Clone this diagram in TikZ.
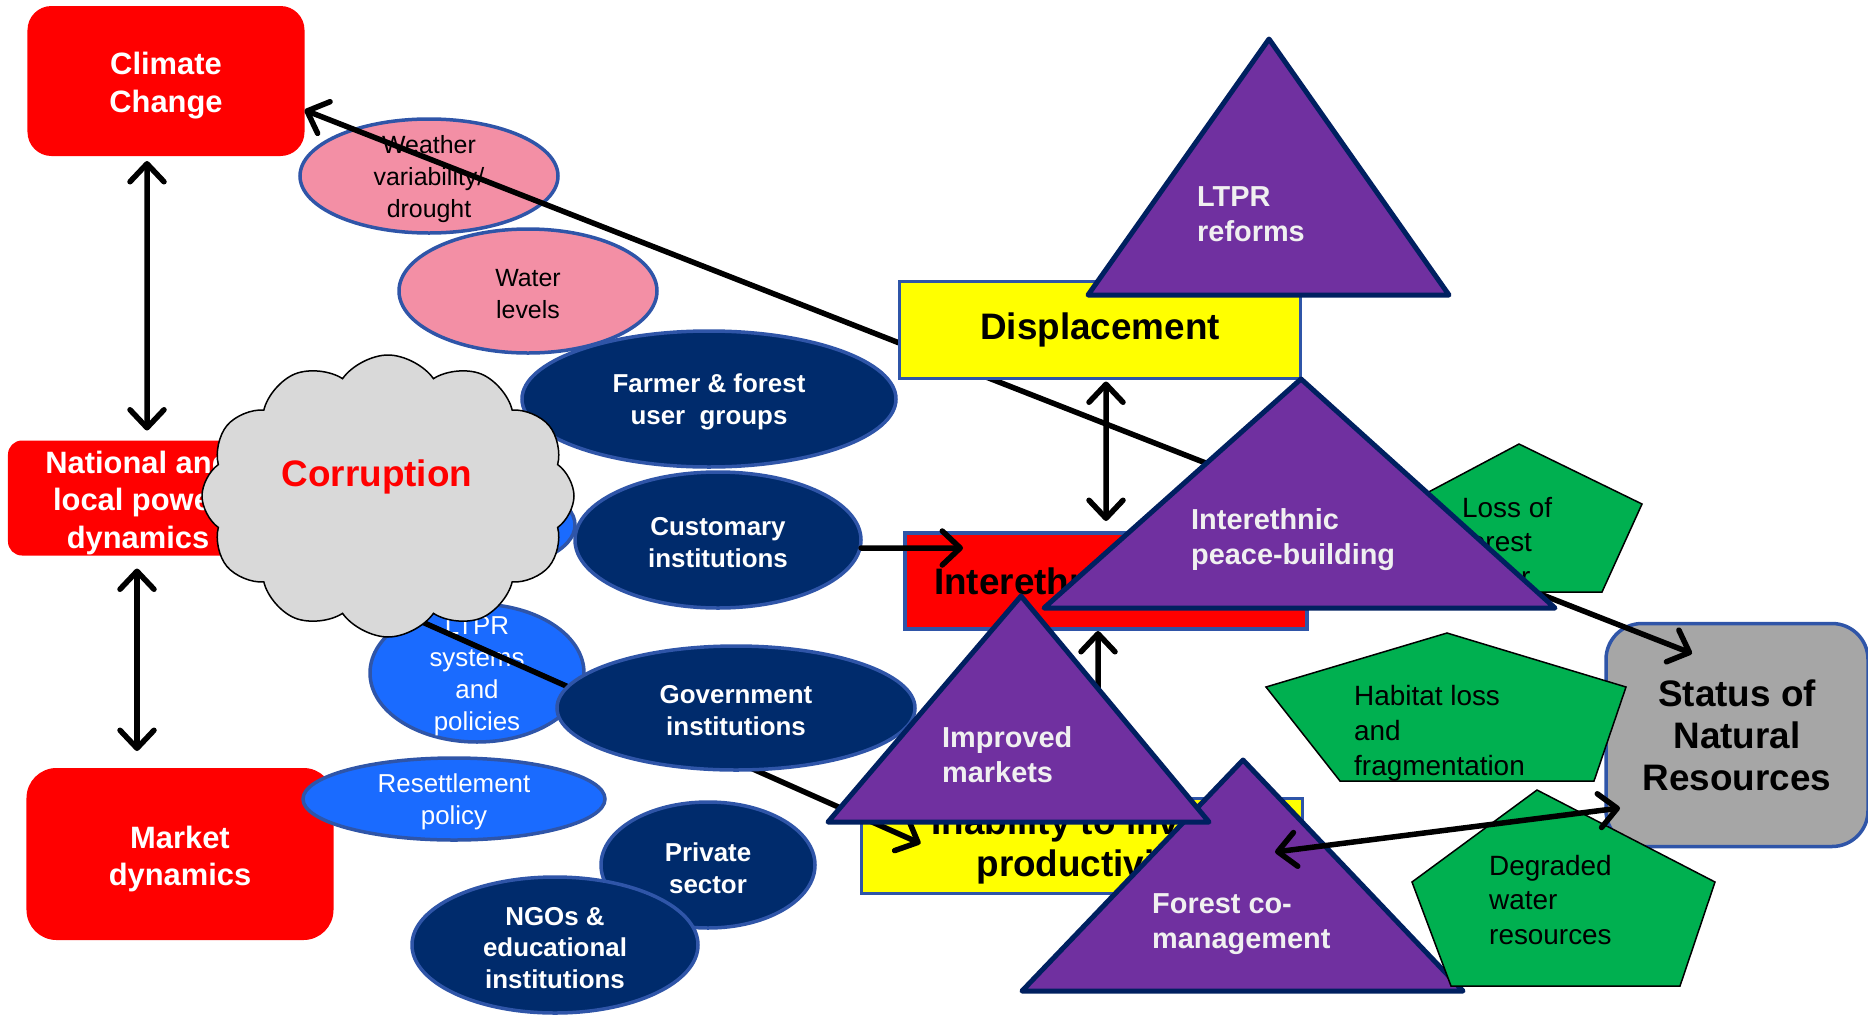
\documentclass[tikz,border=0pt]{standalone}
\usepackage{fontspec}
\setmainfont{Liberation Sans}
\usetikzlibrary{arrows.meta,positioning,shapes.geometric,shapes.symbols}
\definecolor{Box_Red}{HTML}{FF0000}
\definecolor{Rim_Blue}{HTML}{2F55A8}
\definecolor{Pink_Fill}{HTML}{F38FA5}
\definecolor{Navy_Fill}{HTML}{002B6C}
\definecolor{Sky_Fill}{HTML}{1A6BFF}
\definecolor{Tri_Purple}{HTML}{7030A0}
\definecolor{Tri_Navy}{HTML}{002060}
\definecolor{Tri_Text}{HTML}{F0F0F0}
\definecolor{Box_Yellow}{HTML}{FFFF00}
\definecolor{Penta_Green}{HTML}{00B050}
\definecolor{Status_Gray}{HTML}{A6A6A6}
\definecolor{Cloud_Gray}{HTML}{D9D9D9}

\tikzset{
    redbox/.style={rectangle, rounded corners=24bp, fill=Box_Red, inner sep=0, outer sep=0},
    redtext/.style={text=white, align=center, yshift=-5bp, font=\bfseries\fontsize{31}{38}\selectfont},
    plainbox/.style={rectangle, draw=Rim_Blue, line width=3.5bp, align=center,
        inner sep=0, outer sep=0, font=\bfseries\fontsize{37}{42}\selectfont},
    yelbox/.style={plainbox, fill=Box_Yellow},
    confbox/.style={plainbox, fill=Box_Red},
    statbox/.style={plainbox, fill=Status_Gray, rounded corners=36bp},
    ell/.style={ellipse, draw=Rim_Blue, line width=3.5bp, inner sep=0, outer sep=0},
    pinkell/.style={ell, fill=Pink_Fill},
    navyell/.style={ell, fill=Navy_Fill},
    skyell/.style={ell, fill=Sky_Fill},
    pinktext/.style={text=black, align=center, yshift=-3bp, font=\fontsize{25}{32}\selectfont},
    navytext/.style={text=white, align=center, yshift=-3bp, font=\bfseries\fontsize{26}{32}\selectfont},
    skytext/.style={text=white, align=center, yshift=-3bp, font=\fontsize{26}{32}\selectfont},
    puff/.style={cloud, cloud puffs=12, cloud puff arc=110, fill=Cloud_Gray, draw=black,
        line width=1.5bp, inner sep=0},
    tri/.style={fill=Tri_Purple, draw=Tri_Navy, line width=5bp, line join=round},
    tritext/.style={text=Tri_Text, align=left, anchor=west, inner sep=0,
        font=\bfseries\fontsize{29}{35}\selectfont},
    penta/.style={fill=Penta_Green, draw=black, line width=1.5bp},
    pentext/.style={text=black, align=left, anchor=west, inner sep=0,
        font=\fontsize{28}{35}\selectfont},
    arrline/.style={line width=5.5bp, line cap=round}
}

\begin{document}
\begin{tikzpicture}[x=1bp, y=-1bp,
    >={Straight Barb[length=18bp,width=34bp,line cap=round,line join=round]}]
    \useasboundingbox (0,0) rectangle (1868,1015);

    % Drivers on the left
    \node[redbox, minimum width=277bp, minimum height=150bp,
        label={[redtext]center:{Climate\\Change}}] (clim) at (166,81) {};
    \node[redbox, minimum width=260bp, minimum height=115bp, rounded corners=14bp,
        label={[redtext]center:{National and\\local power\\dynamics}}] (nat) at (138,498) {};
    \node[redbox, minimum width=307bp, minimum height=172bp, rounded corners=30bp,
        label={[redtext]center:{Market\\dynamics}}] (mkt) at (180,854) {};

    % Status box and outcome boxes
    \node[statbox, minimum width=262bp, minimum height=223bp] (stat) at (1737,735) {Status of\\Natural\\Resources};
    \node[yelbox, minimum width=441bp, minimum height=95bp] (inab) at (1082,846) {Inability to invest\\productivity};
    \node[confbox, minimum width=402bp, minimum height=96bp] (conf) at (1106,581) {\hspace*{-14bp}Interethnic conflict};

    % Links between drivers
    \draw[<->, arrline, shorten <=5bp, shorten >=10bp] ([xshift=-19bp]clim.south) -- ([xshift=9bp]nat.north);
    \draw[<->, arrline, shorten <=13bp, shorten >=17bp] ([xshift=-1bp]nat.south) -- ([xshift=-1bp]nat.south |- mkt.north);

    % Climate factors
    \node[pinkell, minimum width=258bp, minimum height=114bp,
        label={[pinktext]center:{Weather\\variability/\\drought}}] (weath) at (429,176) {};
    \node[pinkell, minimum width=258bp, minimum height=124bp,
        label={[pinktext]center:{Water\\levels}}] (water) at (528,291) {};

    % Long link climate - resources
    \draw[<->, arrline] ([yshift=-29bp]clim.east) -- ([xshift=86bp,yshift=-30bp]stat.north west);

    \node[yelbox, minimum width=401bp, minimum height=97bp] (disp) at (1100,330) {\raisebox{-4bp}{Displacement}};

    % Actors and policies
    \node[navyell, minimum width=374bp, minimum height=136bp,
        label={[navytext]center:{Farmer \& forest\\user\ \ groups}}] (farm) at (709,399) {};
    \node[skyell, minimum width=190bp, minimum height=90bp] (hidb) at (480,525) {};
    \node[skyell, minimum width=214bp, minimum height=138bp,
        label={[skytext]center:{LTPR\\systems\\and\\policies}}] (ltprs) at (477,673) {};

    \coordinate (corrfoot) at (393,609);
    \draw[->, arrline] (corrfoot) -- ([xshift=59bp,yshift=-45bp]inab.north west);

    \node[puff, minimum width=372bp, minimum height=282bp] (corr) at (388,496) {};
    \node[text=Box_Red, font=\bfseries\fontsize{37}{40}\selectfont] (corrt) at (377,477) {Corruption};

    \node[navyell, minimum width=286bp, minimum height=136bp,
        label={[navytext]center:{Customary\\institutions}}] (cust) at (718,540) {};
    \node[navyell, minimum width=358bp, minimum height=124bp,
        label={[navytext]center:{Government\\institutions}}] (gov) at (736,708) {};
    \node[skyell, minimum width=302bp, minimum height=82bp,
        label={[skytext]center:{Resettlement\\policy}}] (resett) at (454,799) {};
    \node[navyell, minimum width=214bp, minimum height=126bp,
        label={[navytext]center:{Private\\sector}}] (priv) at (708,865) {};
    \node[navyell, minimum width=286bp, minimum height=136bp,
        label={[navytext]center:{NGOs \&\\educational\\institutions}}] (ngo) at (555,945) {};

    % Arrows into conflict
    \draw[->, arrline] ([yshift=-8bp]cust.east) -- ([xshift=58bp,yshift=33bp]conf.west);
    \draw[<->, arrline, shorten <=3bp, shorten >=12bp] ([xshift=6bp]disp.south) -- (conf.north);
    \draw[->, arrline, shorten >=2bp] ([xshift=16bp]inab.north) -- ([xshift=-8bp]conf.south);

    % Interventions (triangles) and impacts (pentagons)
    \draw[tri] (1269,39) -- (1449,295) -- (1088,295) -- cycle;
    \node[tritext] (ltprt) at (1197,214) {LTPR\\reforms};

    \draw[penta] (1519,444) -- (1642,504) -- (1602,592) -- (1447,592) -- (1406,504) -- cycle;
    \node[pentext] (losst) at (1462,542) {Loss of\\forest\\cover};

    \draw[tri] (1301,379) -- (1555,608) -- (1044,608) -- cycle;
    \node[tritext] (peacet) at (1191,540) {Interethnic\\peace-building};

    \draw[tri] (1243,760) -- (1463,991) -- (1022,991) -- cycle;
    \node[tritext] (forestt) at (1152,924) {Forest co-\\management};

    \draw[tri] (1021,596) -- (1209,822) -- (828,822) -- cycle;
    \node[tritext] (markt) at (942,755) {Improved\\markets};

    \draw[penta] (1447,633) -- (1626,687) -- (1594,781) -- (1340,781) -- (1266,687) -- cycle;
    \node[pentext] (habt) at (1354,733) {Habitat loss\\and\\fragmentation};

    \draw[penta] (1537,790) -- (1715,882) -- (1680,986) -- (1451,986) -- (1412,882) -- cycle;
    \node[pentext] (degt) at (1489,900) {Degraded\\water\\resources};

    % Co-management link
    \coordinate (fcm) at (1275,852);
    \draw[<->, arrline] (fcm) -- ([xshift=14bp,yshift=-73bp]stat.west);

\end{tikzpicture}
\end{document}
